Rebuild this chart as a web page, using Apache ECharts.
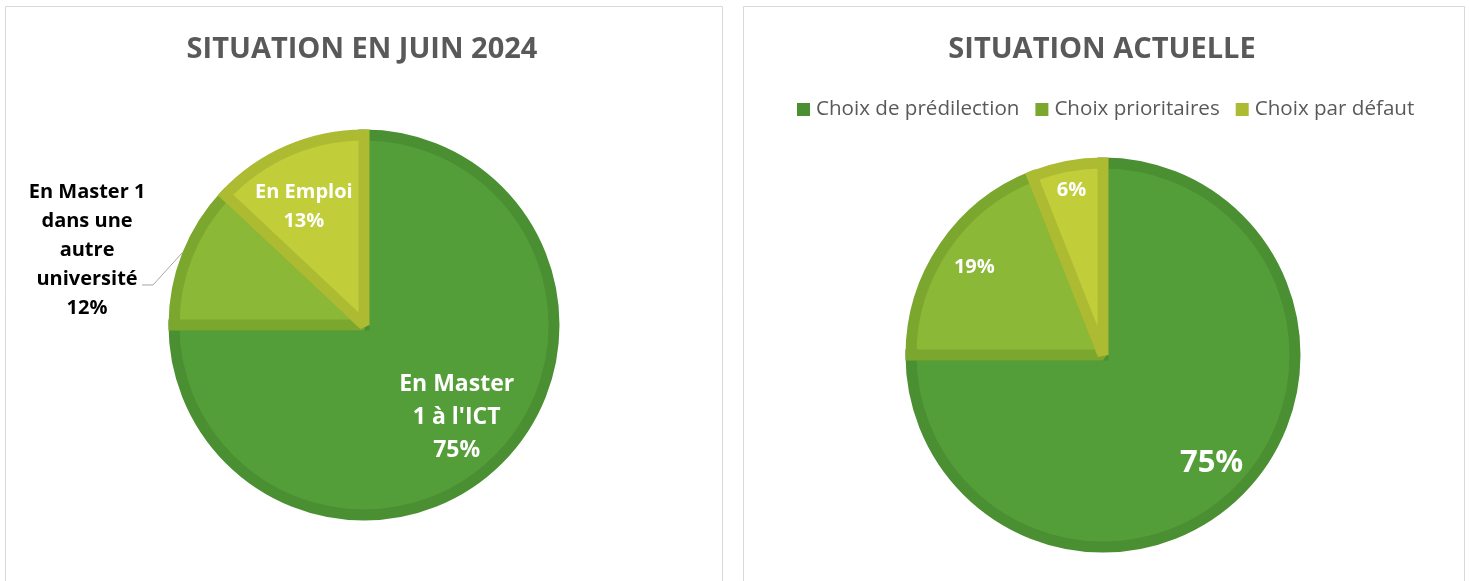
<!DOCTYPE html>
<html>
<head>
<meta charset="utf-8">
<title>Situation</title>
<script src="https://cdn.jsdelivr.net/npm/echarts@6/dist/echarts.min.js"></script>
<style>
  html, body { margin: 0; padding: 0; background: #fff; }
  #main { width: 1469px; height: 581px; }
</style>
</head>
<body>
<div id="main"></div>
<script>
// data
const juinNames = ['En Master\n1 à l\'ICT', 'En Master 1\ndans une\nautre\nuniversité', 'En Emploi'];
const juinValues = [75, 12, 13];
const actuelNames = ['Choix de prédilection', 'Choix prioritaires', 'Choix par défaut'];
const actuelValues = [75, 19, 6];

const fills = ['#549E3A', '#8BB836', '#C1CE3A'];
const borders = ['#4A8F32', '#7CA72E', '#ADBB33'];
const font = 'Open Sans';

const leftPie = { center: [364, 325], r: 190 };
const rightPie = { center: [1103, 355], r: 192 };

// where each label sits: share of the radius, and a small turn (degrees) off the slice middle
const leftFrac = [0.69, 1.03, 0.70];
const leftTurn = [0, 0, -3.5];
const rightFrac = [0.80, 0.81, 0.875];
const rightTurn = [0, 0, 0];

function midAngle(values, i) {
  let sum = 0, before = 0;
  values.forEach((v, k) => { sum += v; if (k < i) before += v; });
  return (before + values[i] / 2) / sum * Math.PI * 2;
}

function labelSpots(values, pie, frac, turn, outsideIdx) {
  return function (params) {
    const i = params.dataIndex;
    const a = midAngle(values, i) + turn[i] * Math.PI / 180;
    const px = pie.center[0] + frac[i] * pie.r * Math.sin(a);
    const py = pie.center[1] - frac[i] * pie.r * Math.cos(a);
    if (i === outsideIdx) {
      return {
        x: px - 95, y: py - 3, align: 'center', verticalAlign: 'middle',
        labelLinePoints: [[px, py], [px - 29, py + 32], [px - 40, py + 32]]
      };
    }
    return { x: px, y: py, align: 'center', verticalAlign: 'middle' };
  };
}

function items(names, values) {
  return names.map((n, i) => ({
    name: n,
    value: values[i],
    itemStyle: { color: fills[i], borderColor: borders[i] }
  }));
}

const juinData = items(juinNames, juinValues);
juinData[1].label = { position: 'outside', color: '#000', fontSize: 20, lineHeight: 29 };
juinData[1].labelLine = { show: true, lineStyle: { color: '#A6A6A6', width: 1 } };
juinData[2].label = { fontSize: 20, lineHeight: 29 };

const actuelData = items(actuelNames, actuelValues);
actuelData[0].label = { fontSize: 31 };

const chart = echarts.init(document.getElementById('main'));

const option = {
  animation: false,
  textStyle: { fontFamily: font },
  graphic: [
    { type: 'rect', shape: { x: 5.5, y: 6.5, width: 717, height: 620 },
      style: { fill: 'none', stroke: '#D9D9D9', lineWidth: 1 }, silent: true },
    { type: 'rect', shape: { x: 743.5, y: 6.5, width: 721, height: 620 },
      style: { fill: 'none', stroke: '#D9D9D9', lineWidth: 1 }, silent: true }
  ],
  title: [
    { text: 'SITUATION EN JUIN 2024', left: 362, top: 35, textAlign: 'center', padding: 0,
      textStyle: { fontFamily: font, fontSize: 29, fontWeight: 'bold', color: '#595959' } },
    { text: 'SITUATION ACTUELLE', left: 1102, top: 35, textAlign: 'center', padding: 0,
      textStyle: { fontFamily: font, fontSize: 29, fontWeight: 'bold', color: '#595959' } }
  ],
  legend: {
    data: actuelNames.map((n, i) => ({ name: n, itemStyle: { color: borders[i], borderWidth: 0 } })),
    left: 797,
    top: 99,
    padding: 0,
    icon: 'rect',
    itemWidth: 13,
    itemHeight: 13,
    itemGap: 16,
    textStyle: { fontFamily: font, fontSize: 20.6, color: '#595959', padding: [0, 0, 0, 1] }
  },
  series: [
    {
      name: 'Juin 2024',
      type: 'pie',
      center: leftPie.center,
      radius: leftPie.r,
      startAngle: 90,
      clockwise: true,
      avoidLabelOverlap: false,
      itemStyle: { borderWidth: 11, borderJoin: 'miter', borderMiterLimit: 1.5 },
      label: {
        show: true, position: 'inside', formatter: '{b}\n{c}%',
        color: '#fff', fontFamily: font, fontWeight: 'bold', fontSize: 23, lineHeight: 33
      },
      labelLine: { show: false },
      labelLayout: labelSpots(juinValues, leftPie, leftFrac, leftTurn, 1),
      emphasis: { disabled: true },
      data: juinData
    },
    {
      name: 'Situation actuelle',
      type: 'pie',
      center: rightPie.center,
      radius: rightPie.r,
      startAngle: 90,
      clockwise: true,
      avoidLabelOverlap: false,
      itemStyle: { borderWidth: 11, borderJoin: 'miter', borderMiterLimit: 1.5 },
      label: {
        show: true, position: 'inside', formatter: '{c}%',
        color: '#fff', fontFamily: font, fontWeight: 'bold', fontSize: 20
      },
      labelLine: { show: false },
      labelLayout: labelSpots(actuelValues, rightPie, rightFrac, rightTurn, -1),
      emphasis: { disabled: true },
      data: actuelData
    }
  ]
};

chart.setOption(option);
</script>
</body>
</html>
